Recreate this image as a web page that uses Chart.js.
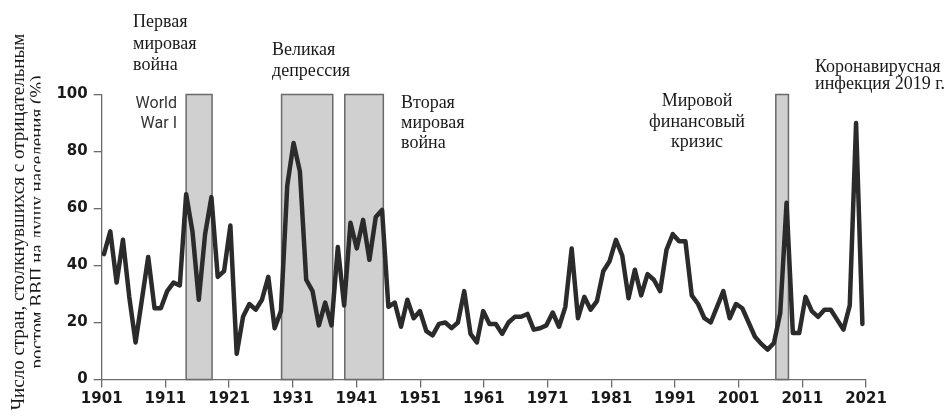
<!DOCTYPE html>
<html lang="ru">
<head>
    <meta charset="UTF-8">
    <title>Страны с отрицательным ростом ВВП на душу населения</title>
    <script src="https://cdn.jsdelivr.net/npm/chart.js@4"></script>
    <style>
        * {
            margin: 0;
            padding: 0;
            box-sizing: border-box;
        }

        html, body {
            width: 952px;
            height: 413px;
            background: #ffffff;
            overflow: hidden;
        }
    </style>
</head>
<body>
    <canvas id="grafico" width="952" height="413"></canvas>
    <script>
        // данные: доля стран со снижением ВВП на душу населения, 1901–2021
        const primeiroAno = 1901;
        const valores = [
            44, 52, 34, 49, 29, 13, 28, 43, 25, 25,
            31, 34, 33, 65, 52, 28, 51, 64, 36, 38,
            54, 9, 22, 26.5, 24.5, 28, 36, 18, 24, 68,
            83, 73, 35, 31, 19, 27, 19, 46.5, 26, 55,
            46, 56, 42, 57, 59.5, 25.5, 27, 18.5, 28, 21.5,
            24, 17, 15.5, 19.5, 20, 18, 20, 31, 16, 13,
            24, 19.5, 19.5, 16, 20, 22, 22, 23, 17.5, 18,
            19, 23.5, 18.5, 25.5, 46, 21.5, 29, 24.5, 27.5, 38,
            41.5, 49, 43.5, 28.5, 38.5, 29.5, 37, 35, 31, 45.5,
            51, 48.5, 48.5, 29.5, 26.5, 21.5, 20, 25.5, 31, 21.5,
            26.5, 25, 20, 15, 12.5, 10.5, 12.8, 23.3, 62, 16.3,
            16.3, 29, 24, 22, 24.5, 24.5, 21, 17.5, 26, 90,
            19.5
        ];
        const anos = valores.map((v, i) => primeiroAno + i);

        const rotulosX = [1901, 1911, 1921, 1931, 1941, 1951, 1961, 1971, 1981, 1991, 2001, 2011, 2021];
        const rotulosY = [0, 20, 40, 60, 80, 100];

        // периоды кризисов (серые полосы)
        const criseInicio = [1914, 1929.1, 1939.1, 2007.3];
        const criseFim = [1918.1, 1937.2, 1945.2, 2009.3];

        const tituloY = [
            'Число стран, столкнувшихся с отрицательным',
            'ростом ВВП на душу населения (%)'
        ];
        const notas = [
            ['Первая', 'мировая', 'война'],
            ['Великая', 'депрессия'],
            ['Вторая', 'мировая', 'война'],
            ['Мировой', 'финансовый', 'кризис'],
            ['Коронавирусная', 'инфекция 2019 г.'],
            ['World', 'War I']
        ];

        const corEixo = '#6b6b6b';
        const fonteTicks = { family: "'DejaVu Sans', sans-serif", size: 15, weight: 'bold' };

        const faixas = {
            id: 'faixas',
            beforeDatasetsDraw(chart) {
                const { ctx, scales } = chart;
                const xd = scales.xd, y = scales.y;
                ctx.save();
                criseInicio.forEach((ini, i) => {
                    const x1 = xd.getPixelForValue(ini);
                    const x2 = xd.getPixelForValue(criseFim[i]);
                    const yTop = y.getPixelForValue(100);
                    const yBot = y.getPixelForValue(0);
                    ctx.fillStyle = '#d0d0d0';
                    ctx.fillRect(x1, yTop, x2 - x1, yBot - yTop);
                    ctx.strokeStyle = '#6a6a6a';
                    ctx.lineWidth = 1.5;
                    ctx.strokeRect(x1, yTop, x2 - x1, yBot - yTop);
                });
                ctx.restore();
            }
        };

        const textos = {
            id: 'textos',
            afterDraw(chart) {
                const ctx = chart.ctx;
                ctx.save();
                ctx.fillStyle = '#1a1a1a';
                ctx.textBaseline = 'alphabetic';
                ctx.font = "18px 'Liberation Serif', serif";

                const escrever = (linhas, x, ys, align) => {
                    ctx.textAlign = align;
                    linhas.forEach((t, i) => ctx.fillText(t, x, ys[i]));
                };
                escrever(notas[0], 133, [27, 49, 70], 'left');
                escrever(notas[1], 272, [55, 76], 'left');
                escrever(notas[2], 401, [108, 128, 148], 'left');
                escrever(notas[3], 697, [106, 127, 147], 'center');
                escrever(notas[4], 815, [72, 89], 'left');

                ctx.fillStyle = '#333333';
                ctx.font = "16px Roboto, sans-serif";
                escrever(notas[5], 177, [108, 128], 'right');

                // подпись оси Y, вторая строка обрезана
                const linhaTitulo = (texto, x, y) => {
                    ctx.save();
                    ctx.beginPath();
                    ctx.rect(0, 0, 40.5, 413);
                    ctx.clip();
                    ctx.fillStyle = '#1a1a1a';
                    ctx.font = "19px 'Liberation Serif', serif";
                    ctx.textAlign = 'center';
                    ctx.translate(x, y);
                    ctx.rotate(-Math.PI / 2);
                    ctx.fillText(texto, 0, 0);
                    ctx.restore();
                };
                linhaTitulo(tituloY[0], 24, 222);
                linhaTitulo(tituloY[1], 43, 222);

                ctx.restore();
            }
        };

        const ctx = document.getElementById('grafico').getContext('2d');
        new Chart(ctx, {
            type: 'line',
            data: {
                datasets: [{
                    data: anos.map((a, i) => ({ x: a, y: valores[i] })),
                    xAxisID: 'xd',
                    yAxisID: 'y',
                    borderColor: '#2b2b2b',
                    borderWidth: 4.5,
                    borderJoinStyle: 'round',
                    borderCapStyle: 'round',
                    pointRadius: 0,
                    tension: 0,
                    fill: false
                }]
            },
            options: {
                responsive: false,
                animation: false,
                devicePixelRatio: 1,
                layout: { padding: { top: 94.5, right: 86, left: 0, bottom: 0 } },
                plugins: {
                    legend: { display: false },
                    tooltip: { enabled: false }
                },
                scales: {
                    x: {
                        type: 'linear',
                        position: 'bottom',
                        min: 1901,
                        max: 2021,
                        afterBuildTicks(scale) {
                            scale.ticks = rotulosX.map(v => ({ value: v }));
                        },
                        afterFit(scale) {
                            scale.height = 33.5;
                        },
                        ticks: {
                            autoSkip: false,
                            maxRotation: 0,
                            padding: 3,
                            color: '#1a1a1a',
                            font: fonteTicks,
                            callback: v => String(v)
                        },
                        grid: { drawOnChartArea: false, drawTicks: true, tickLength: 8, color: corEixo, lineWidth: 1.3 },
                        border: { display: true, color: corEixo, width: 1.3 }
                    },
                    xd: {
                        type: 'linear',
                        display: false,
                        min: 1900.64,
                        max: 2021.57
                    },
                    y: {
                        min: 0,
                        max: 100,
                        afterBuildTicks(scale) {
                            scale.ticks = rotulosY.map(v => ({ value: v }));
                        },
                        afterFit(scale) {
                            scale.width = 101.7;
                        },
                        ticks: {
                            padding: 6,
                            color: '#1a1a1a',
                            font: fonteTicks
                        },
                        grid: { drawOnChartArea: false, drawTicks: true, tickLength: 8, color: corEixo, lineWidth: 1.3 },
                        border: { display: true, color: corEixo, width: 1.3 }
                    }
                }
            },
            plugins: [faixas, textos]
        });
    </script>
</body>
</html>
